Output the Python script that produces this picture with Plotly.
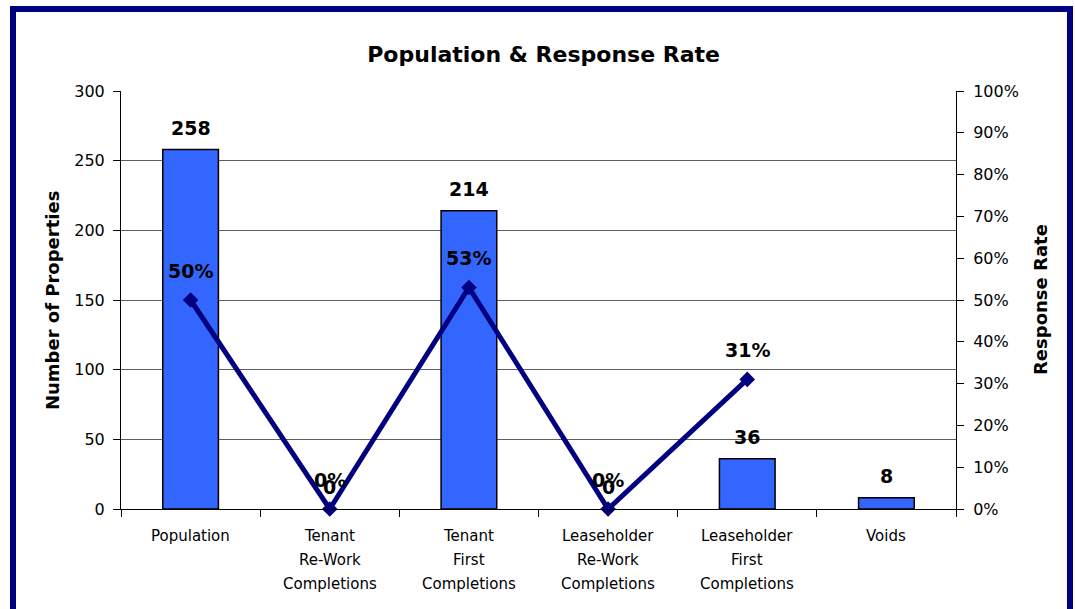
import plotly.graph_objects as go

# Chart data
categories = [
    "Population",
    "Tenant<br>Re-Work<br>Completions",
    "Tenant<br>First<br>Completions",
    "Leaseholder<br>Re-Work<br>Completions",
    "Leaseholder<br>First<br>Completions",
    "Voids",
]
properties = [258, 0, 214, 0, 36, 8]
response_rate = [0.50, 0.0, 0.53, 0.0, 0.31, None]

left_ticks = [0, 50, 100, 150, 200, 250, 300]
right_ticks = [0, 0.1, 0.2, 0.3, 0.4, 0.5, 0.6, 0.7, 0.8, 0.9, 1.0]

FONT = "DejaVu Sans"
BAR_COLOR = "#3366FF"
LINE_COLOR = "#000080"

fig = go.Figure()

fig.add_trace(go.Bar(
    x=categories,
    y=properties,
    width=0.4,
    marker=dict(
        color=BAR_COLOR,
        # no outline on empty bars
        line=dict(color="black", width=[1.5 if v else 0 for v in properties]),
    ),
    hoverinfo="skip",
))

fig.add_trace(go.Scatter(
    x=categories,
    y=response_rate,
    yaxis="y2",
    mode="lines+markers",
    line=dict(color=LINE_COLOR, width=5),
    marker=dict(symbol="diamond", size=12, color=LINE_COLOR),
    connectgaps=False,
    cliponaxis=False,
    hoverinfo="skip",
))

annotations = []

# value labels above bars
for cat, val in zip(categories, properties):
    annotations.append(dict(
        x=cat, y=val, xref="x", yref="y", text=f"<b>{val}</b>",
        showarrow=False, yshift=22, yanchor="middle",
        font=dict(family=FONT, size=19, color="black"),
    ))

# percentage labels above line points
for cat, val in zip(categories, response_rate):
    if val is None:
        continue
    annotations.append(dict(
        x=cat, y=val, xref="x", yref="y2", text=f"<b>{round(val * 100)}%</b>",
        showarrow=False, yshift=29, yanchor="middle",
        font=dict(family=FONT, size=19, color="black"),
    ))

# category labels, one line at a time
for cat in categories:
    for i, line in enumerate(cat.split("<br>")):
        annotations.append(dict(
            x=cat, y=0, xref="x", yref="paper", text=line,
            showarrow=False, yanchor="middle", yshift=-27 - 24 * i,
            font=dict(family=FONT, size=15, color="black"),
        ))

# axis titles
annotations.append(dict(
    x=-0.0826, y=0.4976, xref="paper", yref="paper", text="<b>Number of Properties</b>",
    textangle=-90, showarrow=False, xanchor="center", yanchor="middle",
    font=dict(family=FONT, size=18, color="black"),
))
annotations.append(dict(
    x=1.1006, y=0.5, xref="paper", yref="paper", text="<b>Response Rate</b>",
    textangle=-90, showarrow=False, xanchor="center", yanchor="middle",
    font=dict(family=FONT, size=18, color="black"),
))

fig.update_layout(
    width=1075,
    height=609,
    margin=dict(l=121, r=119, t=91, b=100),
    paper_bgcolor="white",
    plot_bgcolor="white",
    showlegend=False,
    bargap=0.6,
    title=dict(
        text="<b>Population & Response Rate</b>",
        x=0.5057, xanchor="center", y=1 - 54 / 609, yanchor="middle",
        font=dict(family=FONT, size=22, color="black"),
    ),
    xaxis=dict(
        type="category",
        showticklabels=False,
        ticks="outside",
        tickson="boundaries",
        ticklen=7,
        tickcolor="black",
        showline=True,
        linecolor="black",
        linewidth=1,
        showgrid=False,
        zeroline=False,
    ),
    yaxis=dict(
        range=[0, 300],
        tickvals=left_ticks,
        ticks="outside",
        ticklen=7,
        tickcolor="black",
        ticklabelstandoff=5,
        showline=True,
        linecolor="black",
        linewidth=1,
        showgrid=True,
        gridcolor="#5e5e5e",
        gridwidth=1,
        zeroline=False,
        tickfont=dict(family=FONT, size=16, color="black"),
    ),
    yaxis2=dict(
        range=[0, 1],
        overlaying="y",
        side="right",
        tickvals=right_ticks,
        tickformat=".0%",
        ticks="outside",
        ticklen=7,
        tickcolor="black",
        ticklabelstandoff=6,
        showline=True,
        linecolor="black",
        linewidth=1,
        showgrid=False,
        zeroline=False,
        tickfont=dict(family=FONT, size=16, color="black"),
    ),
    annotations=annotations,
    shapes=[
        # dark blue frame round the chart
        dict(
            type="rect", xref="paper", yref="paper",
            x0=(13 - 121) / 835, x1=(1070 - 121) / 835,
            y0=-0.4, y1=(509 - 9) / 418,
            line=dict(color="#000080", width=6),
            fillcolor="rgba(0,0,0,0)",
            layer="above",
        ),
    ],
)

fig.write_html("out.html")
